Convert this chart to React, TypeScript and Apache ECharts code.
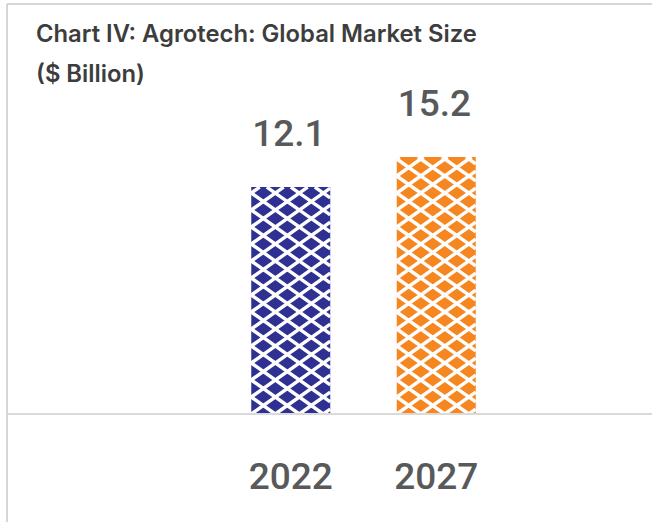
import React, { useEffect, useRef } from "react";
import * as echarts from "echarts";

const categories = ["2022", "2027"];
const values = [12.1, 15.2];
const barColors = ["#2e3192", "#f6861f"];
const titleText = "Chart IV: Agrotech: Global Market Size\n($ Billion)";

const Y_MIN = -11.35;
const Y_MAX = 21.09;
const BAR_W = 79;
const PH = 24; // pattern horizontal period
const PV = 17; // pattern vertical period
const LW = 3.4;

function hatchLines(x0: number, y0: number, w: number, h: number) {
  const x1 = x0 + w;
  const y1 = y0 + h;
  const s = PV / PH;
  const out: any[] = [];
  const nMax = Math.ceil((h + w * s) / PV) + 2;
  [1, -1].forEach((sign) => {
    for (let n = -nMax; n <= nMax; n++) {
      const b = y1 + n * PV;
      const xa = x0 + (y0 - b) / (sign * s);
      const xb = x0 + (y1 - b) / (sign * s);
      const lo = Math.max(x0, Math.min(xa, xb));
      const hi = Math.min(x1, Math.max(xa, xb));
      if (hi - lo > 0.5) {
        out.push({
          type: "line",
          shape: {
            x1: lo,
            y1: b + sign * s * (lo - x0),
            x2: hi,
            y2: b + sign * s * (hi - x0),
          },
          style: { stroke: "#ffffff", lineWidth: LW },
        });
      }
    }
  });
  return out;
}

export default function App() {
  const ref = useRef<HTMLDivElement>(null);
  useEffect(() => {
    if (!ref.current) return;
    const chart = echarts.init(ref.current, undefined, { renderer: "svg" });
    const option: any = {
      animation: false,
      title: {
        text: titleText,
        left: 31,
        top: 8,
        textStyle: {
          fontFamily: "Inter",
          fontSize: 23.8,
          fontWeight: 600,
          color: "#3d3d3d",
          lineHeight: 40,
        },
      },
      grid: { left: 218, width: 291, top: 100, bottom: 108 },
      xAxis: {
        type: "category",
        data: categories,
        axisLine: { show: false },
        axisTick: { show: false },
        splitLine: { show: false },
        axisLabel: {
          margin: 44,
          fontFamily: "Roboto",
          fontSize: 37,
          fontWeight: 500,
          color: "#58595b",
        },
      },
      yAxis: { type: "value", min: Y_MIN, max: Y_MAX, show: false },
      graphic: [
        {
          type: "line",
          z: 100,
          shape: { x1: 7, y1: 4, x2: 7, y2: 522 },
          style: { stroke: "#c8c8c8", lineWidth: 1.5 },
        },
        {
          type: "line",
          z: 100,
          shape: { x1: 7, y1: 4, x2: 652, y2: 4 },
          style: { stroke: "#c8c8c8", lineWidth: 1.5 },
        },
        {
          type: "line",
          z: 100,
          shape: { x1: 7, y1: 414, x2: 652, y2: 414 },
          style: { stroke: "#d9d9d9", lineWidth: 2 },
        },
      ],
      series: [
        {
          type: "custom",
          data: values.map((v, i) => [i, v]),
          encode: { x: 0, y: 1 },
          renderItem: (params: any, api: any) => {
            const idx = api.value(0);
            const v = api.value(1);
            const top = api.coord([idx, v]);
            const base = api.coord([idx, Y_MIN]);
            const x0 = top[0] - BAR_W / 2;
            const y0 = top[1];
            const h = base[1] - top[1];
            return {
              type: "group",
              children: [
                {
                  type: "rect",
                  shape: { x: x0, y: y0, width: BAR_W, height: h },
                  style: { fill: barColors[params.dataIndex] },
                },
                ...hatchLines(x0, y0, BAR_W, h),
                {
                  type: "text",
                  x: x0 + 1,
                  y: y0 - 54,
                  style: {
                    text: String(v),
                    textAlign: "left",
                    textVerticalAlign: "middle",
                    fontFamily: "Roboto",
                    fontSize: 37,
                    fontWeight: 500,
                    fill: "#58595b",
                  },
                },
              ],
            };
          },
        },
      ],
    };
    chart.setOption(option);
    return () => chart.dispose();
  }, []);
  return (
    <div
      ref={ref}
      style={{ position: "fixed", left: 0, top: 0, width: 652, height: 522, background: "#fff" }}
    />
  );
}
